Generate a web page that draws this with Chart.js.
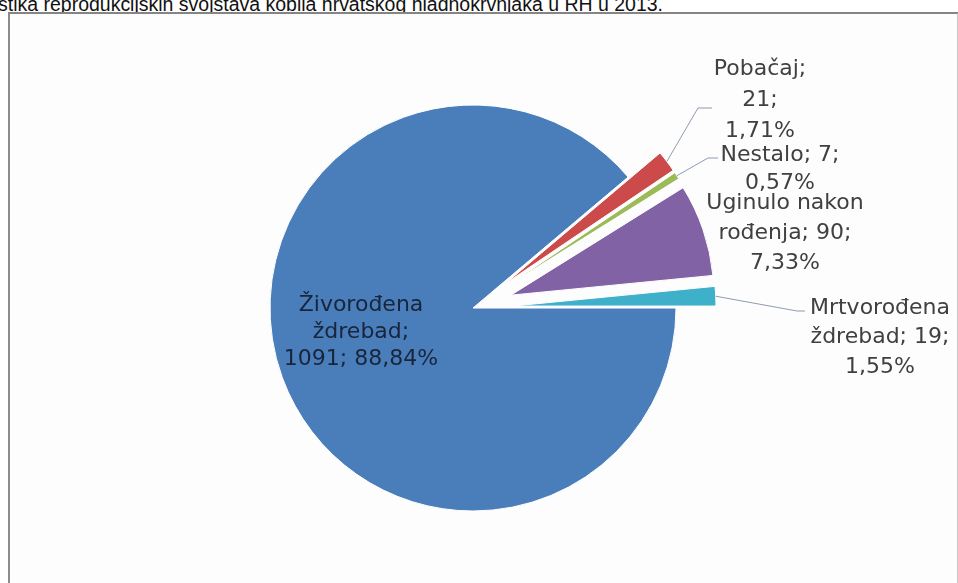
<!DOCTYPE html>
<html>
<head>
<meta charset="utf-8">
<script src="https://cdn.jsdelivr.net/npm/chart.js@4.4.0/dist/chart.umd.min.js"></script>
<style>
  html, body { margin: 0; padding: 0; width: 958px; height: 583px; overflow: hidden; background: #fff; }
  #naslov {
    position: absolute; left: -2px; top: -7px; white-space: nowrap;
    font-family: "Liberation Sans", Arial, sans-serif; font-size: 20px; color: #111;
    transform-origin: 0 0;
  }
  #okvir {
    position: absolute; left: 8px; top: 12px; width: 947px; height: 580px;
    border-top: 2px solid #858585; border-left: 2px solid #8c8c8c; border-right: 2px solid #c8c8c8;
    background: #fdfdfd;
  }
  #graf { position: absolute; left: 0; top: 0; }
</style>
</head>
<body>
<div id="naslov">stika reprodukcijskih svojstava kobila hrvatskog hladnokrvnjaka u RH u 2013.</div>
<div id="okvir"></div>
<canvas id="graf" width="958" height="583"></canvas>
<script>
// podaci
const kategorije = ["Živorođena ždrebad", "Pobačaj", "Nestalo", "Uginulo nakon rođenja", "Mrtvorođena ždrebad"];
const brojevi = [1091, 21, 7, 90, 19];
const boje = ["#4a7ebb", "#cc4b4a", "#9bbb59", "#8062a5", "#3fb0c9"];

const ukupno = brojevi.reduce((a, b) => a + b, 0);
const postoci = brojevi.map(n => (n / ukupno * 100).toFixed(2).replace(".", ",") + "%");

// naslov razvuci na sirinu iz slike
let nasl = document.getElementById("naslov");
nasl.style.transform = "scaleX(" + (665 / nasl.getBoundingClientRect().width) + ")";

// raspored oznaka (odnos prema sredistu pite)
const rasporedOznaka = [
  { dx: -112, dy: -3, sirina: 160, razmak: 27, boja: "#18253b" },
  { dx: 287, dy: -239, sirina: 95, razmak: 31, boja: "#404040", linija: [[225, -200], [239, -200]] },
  { dx: 307, dy: -153, sirina: 130, razmak: 28, boja: "#404040", linija: [[235, -150], [245, -150]] },
  { dx: 312, dy: -105, sirina: 175, razmak: 30, boja: "#404040" },
  { dx: 407, dy: 0, sirina: 160, razmak: 29.5, boja: "#404040", linija: [[324, 3], [332, 3]] }
];

function prelomi(ctx, tekst, sirina) {
  let rijeci = tekst.split(" "), redovi = [], red = "";
  rijeci.forEach(r => {
    let probni = red ? red + " " + r : r;
    if (red && ctx.measureText(probni).width > sirina) {
      redovi.push(red);
      red = r;
    } else {
      red = probni;
    }
  });
  redovi.push(red);
  return redovi;
}

// izvuceni dijelovi pite: svaki luk pomaknut po svojoj srednjoj osi
const eksplozija = {
  id: "eksplozija",
  beforeDatasetDraw(chart, args, opts) {
    const ctx = chart.ctx;
    args.meta.data.forEach((luk, i) => {
      const pomak = opts.pomak[i] || 0;
      const pola = (luk.startAngle + luk.endAngle) / 2;
      ctx.save();
      ctx.translate(Math.cos(pola) * pomak, Math.sin(pola) * pomak);
      luk.draw(ctx);
      ctx.restore();
    });
    return false;
  }
};

const oznake = {
  id: "oznake",
  afterDatasetsDraw(chart, args, opts) {
    const ctx = chart.ctx;
    const meta = chart.getDatasetMeta(0);
    const pomaci = chart.options.plugins.eksplozija.pomak;
    meta.data.forEach((luk, i) => {
      const r = rasporedOznaka[i];
      const cx = luk.x, cy = luk.y;
      ctx.save();
      if (r.linija) {
        const pola = (luk.startAngle + luk.endAngle) / 2;
        const d = luk.outerRadius + (pomaci[i] || 0);
        ctx.strokeStyle = "#8f9bb0";
        ctx.lineWidth = 1;
        ctx.beginPath();
        ctx.moveTo(cx + Math.cos(pola) * d, cy + Math.sin(pola) * d);
        r.linija.forEach(t => ctx.lineTo(cx + t[0], cy + t[1]));
        ctx.stroke();
      }
      ctx.font = "22px 'DejaVu Sans', Verdana, sans-serif";
      ctx.fillStyle = r.boja;
      ctx.textAlign = "center";
      ctx.textBaseline = "middle";
      const tekst = kategorije[i] + "; " + brojevi[i] + "; " + postoci[i];
      prelomi(ctx, tekst, r.sirina).forEach((red, k) => {
        ctx.fillText(red, cx + r.dx, cy + r.dy + k * r.razmak);
      });
      ctx.restore();
    });
  }
};

new Chart(document.getElementById("graf"), {
  type: "pie",
  data: {
    labels: kategorije,
    datasets: [{
      data: brojevi,
      backgroundColor: boje,
      borderColor: "#ffffff",
      borderWidth: 1,
      hoverOffset: 0,
      radius: 203
    }]
  },
  options: {
    responsive: false,
    animation: false,
    rotation: 90,
    layout: { padding: { left: 0, right: 12, top: 33, bottom: 0 } },
    plugins: {
      legend: { display: false },
      tooltip: { enabled: false },
      eksplozija: { pomak: [0, 40, 40, 40, 40] }
    }
  },
  plugins: [eksplozija, oznake]
});
</script>
</body>
</html>
